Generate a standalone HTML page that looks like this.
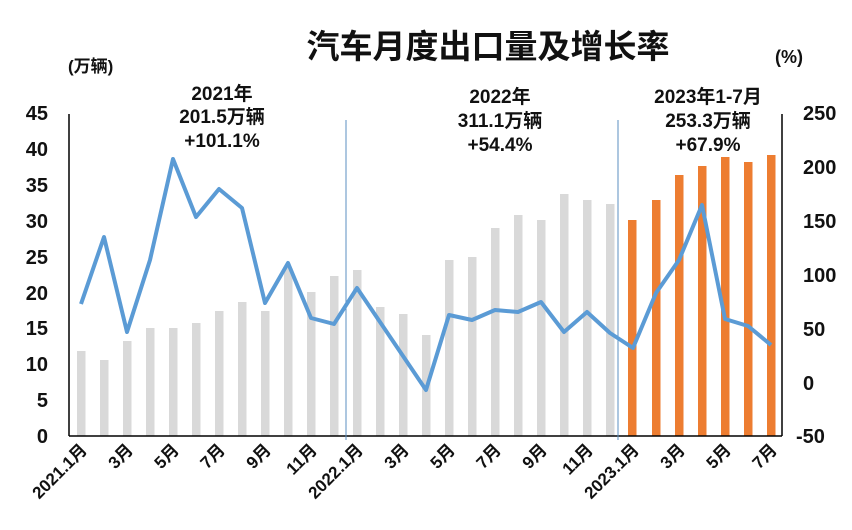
<!DOCTYPE html>
<html><head><meta charset="utf-8"><style>
body{margin:0;background:#fff;}
svg{display:block;font-family:"Liberation Sans","Noto Sans CJK SC",sans-serif;}
</style></head><body>
<svg width="852" height="530" viewBox="0 0 852 530" xmlns="http://www.w3.org/2000/svg">
<rect width="852" height="530" fill="#fff"/>
<text x="488" y="58" text-anchor="middle" font-size="33" font-weight="bold" fill="#111">汽车月度出口量及增长率</text>
<text x="68" y="72" font-size="17" font-weight="bold" fill="#111">(万辆)</text>
<text x="775" y="63" font-size="18" font-weight="bold" fill="#111">(%)</text>
<g font-size="20" font-weight="bold" fill="#111" text-anchor="end">
<text x="48" y="120">45</text><text x="48" y="156">40</text><text x="48" y="192">35</text><text x="48" y="228">30</text><text x="48" y="264">25</text><text x="48" y="300">20</text><text x="48" y="335">15</text><text x="48" y="371">10</text><text x="48" y="407">5</text><text x="48" y="443">0</text>
</g>
<g font-size="20" font-weight="bold" fill="#111">
<text x="803" y="120">250</text><text x="803" y="174">200</text><text x="803" y="228">150</text><text x="803" y="282">100</text><text x="803" y="336">50</text><text x="803" y="390">0</text><text x="796" y="443">-50</text>
</g>
<g fill="#d9d9d9">
<rect x="77" y="351" width="8.5" height="85"/><rect x="100" y="360" width="8.5" height="76"/><rect x="123" y="341" width="8.5" height="95"/><rect x="146" y="328" width="8.5" height="108"/><rect x="169" y="328" width="8.5" height="108"/><rect x="192" y="323" width="8.5" height="113"/><rect x="215" y="311" width="8.5" height="125"/><rect x="238" y="302" width="8.5" height="134"/><rect x="261" y="311" width="8.5" height="125"/><rect x="284" y="268" width="8.5" height="168"/><rect x="307" y="292" width="8.5" height="144"/><rect x="330" y="276" width="8.5" height="160"/>
<rect x="353" y="270" width="8.5" height="166"/><rect x="376" y="307" width="8.5" height="129"/><rect x="399" y="314" width="8.5" height="122"/><rect x="422" y="335" width="8.5" height="101"/><rect x="445" y="260" width="8.5" height="176"/><rect x="468" y="257" width="8.5" height="179"/><rect x="491" y="228" width="8.5" height="208"/><rect x="514" y="215" width="8.5" height="221"/><rect x="537" y="220" width="8.5" height="216"/><rect x="560" y="194" width="8.5" height="242"/><rect x="583" y="200" width="8.5" height="236"/><rect x="606" y="204" width="8.5" height="232"/>
</g>
<g fill="#ed7d31">
<rect x="628" y="220" width="8.5" height="216"/><rect x="652" y="200" width="8.5" height="236"/><rect x="675" y="175" width="8.5" height="261"/><rect x="698" y="166" width="8.5" height="270"/><rect x="721" y="157" width="8.5" height="279"/><rect x="744" y="162" width="8.5" height="274"/><rect x="767" y="155" width="8.5" height="281"/>
</g>
<line x1="69" y1="114" x2="69" y2="436" stroke="#000" stroke-width="1.5"/>
<line x1="782" y1="114" x2="782" y2="436" stroke="#000" stroke-width="1.5"/>
<line x1="69" y1="436" x2="782" y2="436" stroke="#000" stroke-width="1.5"/>
<line x1="346" y1="120" x2="346" y2="440" stroke="#5b8fc0" stroke-width="1"/>
<line x1="618" y1="120" x2="618" y2="440" stroke="#5b8fc0" stroke-width="1"/>
<polyline fill="none" stroke="#5b9bd5" stroke-width="4" stroke-linejoin="round" points="81,304 104,237 127,332 150,260 173,159 196,217 219,189 242,208 265,303 288,263 311,318 334,324 357,288 380,322 403,356 426,390 449,315 472,320 495,310 518,312 541,302 564,332 587,312 610,333 633,348 656,293 679,260 702,205 725,319 748,326 771,345"/>
<g font-size="19" font-weight="bold" fill="#111" text-anchor="middle">
<text x="222" y="100">2021年</text><text x="222" y="123">201.5万辆</text><text x="222" y="147">+101.1%</text>
<text x="500" y="103">2022年</text><text x="500" y="127">311.1万辆</text><text x="500" y="151">+54.4%</text>
<text x="708" y="103">2023年1-7月</text><text x="708" y="127">253.3万辆</text><text x="708" y="151">+67.9%</text>
</g>
<g font-size="17" font-weight="bold" fill="#111" text-anchor="end">
<text transform="translate(88,451) rotate(-45)">2021.1月</text>
<text transform="translate(134,451) rotate(-45)">3月</text>
<text transform="translate(180,451) rotate(-45)">5月</text>
<text transform="translate(226,451) rotate(-45)">7月</text>
<text transform="translate(272,451) rotate(-45)">9月</text>
<text transform="translate(318,451) rotate(-45)">11月</text>
<text transform="translate(364,451) rotate(-45)">2022.1月</text>
<text transform="translate(410,451) rotate(-45)">3月</text>
<text transform="translate(456,451) rotate(-45)">5月</text>
<text transform="translate(502,451) rotate(-45)">7月</text>
<text transform="translate(548,451) rotate(-45)">9月</text>
<text transform="translate(594,451) rotate(-45)">11月</text>
<text transform="translate(640,451) rotate(-45)">2023.1月</text>
<text transform="translate(686,451) rotate(-45)">3月</text>
<text transform="translate(732,451) rotate(-45)">5月</text>
<text transform="translate(778,451) rotate(-45)">7月</text>
</g>
</svg>
</body></html>
